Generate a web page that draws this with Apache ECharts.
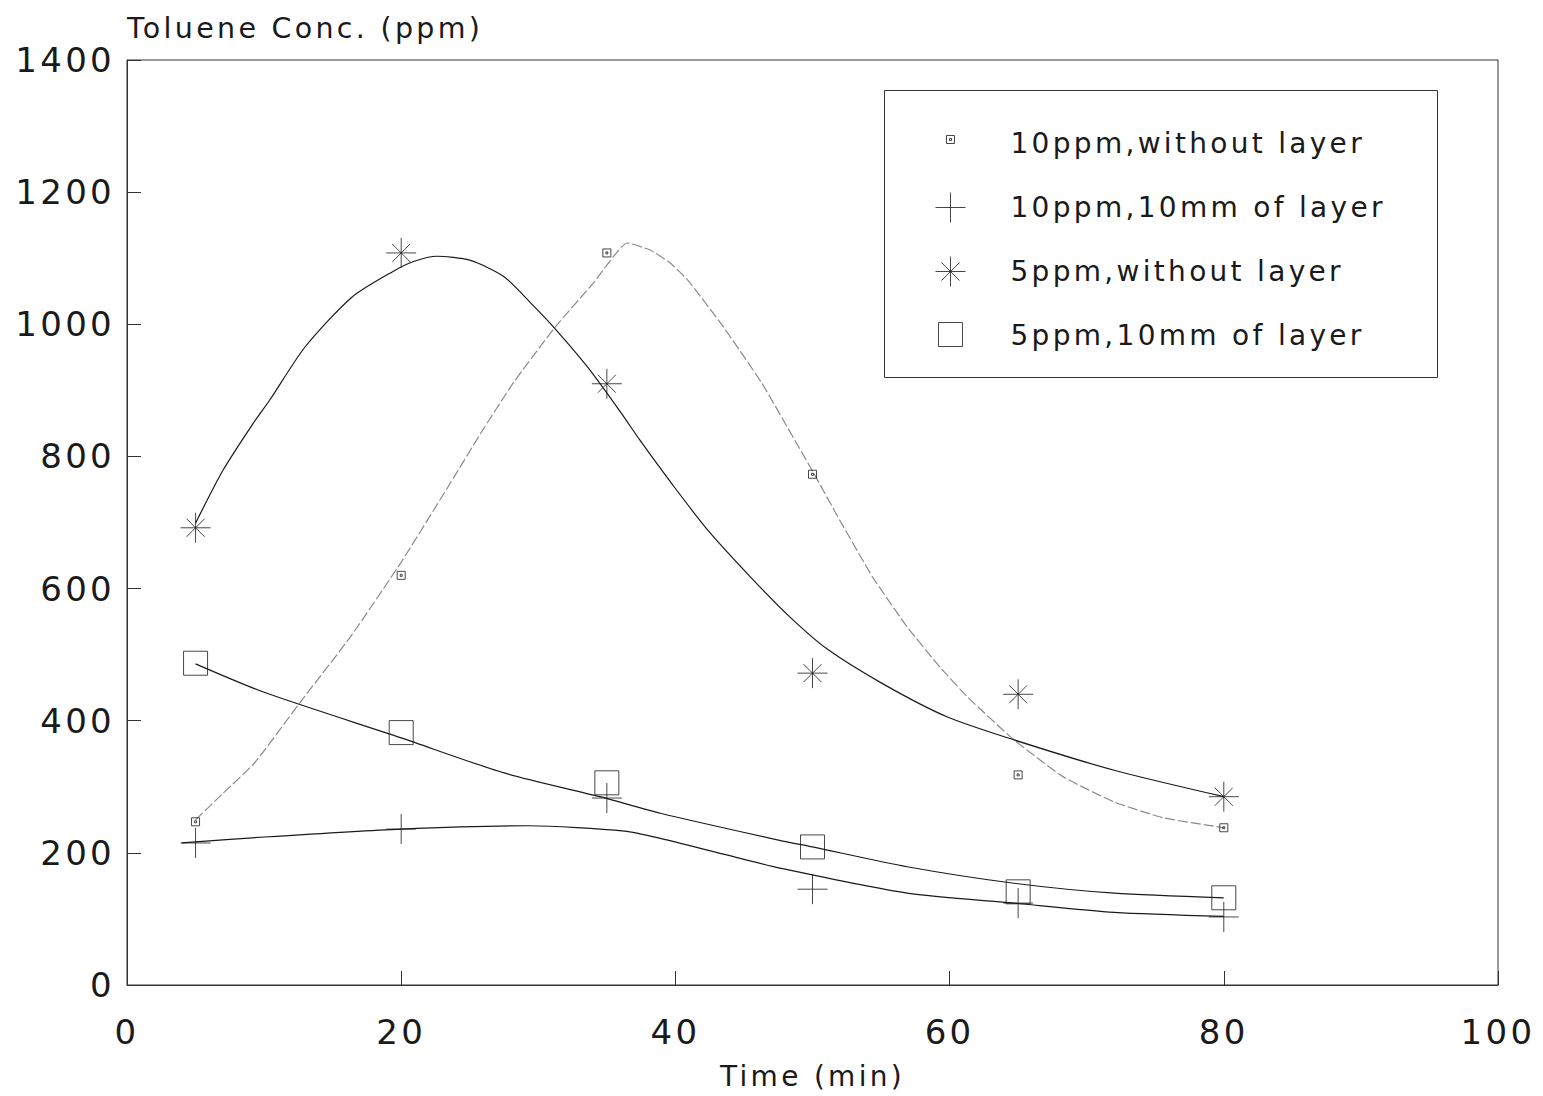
<!DOCTYPE html>
<html>
<head>
<meta charset="utf-8">
<script src="https://cdn.jsdelivr.net/npm/echarts@6/dist/echarts.min.js"></script>
<style>
  html, body { margin: 0; padding: 0; background: #fff; }
  #c { width: 1543px; height: 1096px; }
  #c text { letter-spacing: 3.3px; }
</style>
</head>
<body>
<div id="c"></div>
<script>
// ---- data ----
const times = [5, 20, 35, 50, 65, 80];
const names = ['10ppm,without layer', '10ppm,10mm of layer', '5ppm,without layer', '5ppm,10mm of layer'];
const s10ppmNoLayer = [247, 620, 1108, 773, 318, 238];
const s10ppmLayer   = [215, 236, 283, 145, 124, 103];
const s5ppmNoLayer  = [692, 1108, 910, 472, 440, 285];
const s5ppmLayer    = [487, 382, 306, 209, 141, 132];

// fitted curves as drawn in the reference (x, y)
const fit10ppmNoLayer = [[5,250],[7,290],[9.3,336],[12.6,427],[16.3,527],[20,640],[23.3,750],[25.8,835],[28.2,912],[31.2,995],[34,1062],[36.5,1123],[38.2,1112],[39.6,1093],[40.9,1067],[43.5,996],[46.3,911],[49,814],[50,778],[52,703],[54.4,617],[56.9,542],[59.3,481],[61.3,436],[64.7,371],[68.3,315],[72,277],[75.6,253],[80,238]];
const fit5ppmNoLayer = [[5,699],[7,779],[9.2,850],[10.4,885],[13,966],[16.4,1041],[19.4,1080],[20.9,1095],[22.6,1103],[25,1097],[27.5,1072],[29.6,1029],[31.1,996],[33.6,935],[36,867],[37.4,825],[39.8,757],[42.3,690],[45.5,617],[48.4,556],[51.1,508],[55.2,455],[59.8,406],[64.7,371],[72,325],[80,285]];
const fit5ppmLayer = [[5,486],[10,443],[20,374],[27.5,321],[34.5,285],[38.9,260],[47.6,219],[50,209],[56.9,179],[64.7,154],[72,139],[80,132]];
const fit10ppmLayer = [[4,215],[10,224],[20,236],[29.3,241],[36.3,233],[38.9,222],[43.5,198],[47.6,177],[56.9,139],[64.7,124],[72,110],[80,104]];

const FONT = '"DejaVu Sans", sans-serif';
const INK = '#1a1a1a';

const symDot = 'path://M0,0H8V8H0Z M3,3H5V5H3Z';
const symPlus = 'path://M0,15H30M15,0V30';
const symStar = 'path://M0,15H30M15,0V30M6,6L24,24M24,6L6,24';
const symSquare = 'path://M0,0H24V24H0Z';

const legDot = 'path://M0,0M30,30M11,7H19V15H11Z M14,10H16V12H14Z';
const legPlus = 'path://M0,15H30M15,0V30';
const legStar = 'path://M0,15H30M15,0V30M6,6L24,24M24,6L6,24';
const legSquare = 'path://M0,0M30,30M3,2H27V26H3Z';

function pts(vals) { return times.map((t, i) => [t, vals[i]]); }

function scatter(name, vals, symbol, size) {
  return {
    name, type: 'scatter', data: pts(vals), symbol, symbolSize: size, z: 5,
    itemStyle: { color: 'transparent', borderColor: INK, borderWidth: 1 },
    emphasis: { disabled: true }, silent: true
  };
}
function curve(data, color, type, smooth) {
  return {
    type: 'line', data, showSymbol: false, symbol: 'none', smooth: smooth == null ? 0.25 : smooth, z: 3,
    lineStyle: { color, width: 1.2, type: type || 'solid' },
    emphasis: { disabled: true }, silent: true
  };
}

const chart = echarts.init(document.getElementById('c'), null, { renderer: 'svg' });
chart.setOption({
  animation: false,
  backgroundColor: '#fff',
  textStyle: { fontFamily: FONT },
  grid: { left: 127, right: 45, top: 60, bottom: 111, show: true, borderColor: '#333', borderWidth: 1 },
  xAxis: {
    type: 'value', min: 0, max: 100, interval: 20,
    axisLine: { lineStyle: { color: '#333', width: 1 } },
    axisTick: { inside: true, length: 14, lineStyle: { color: '#333' } },
    axisLabel: { fontSize: 34, color: INK, margin: 30, fontFamily: FONT, formatter: v => String(v) },
    splitLine: { show: false },
    name: 'Time (min)', nameLocation: 'middle', nameGap: 77,
    nameTextStyle: { fontSize: 28, color: INK, fontFamily: FONT }
  },
  yAxis: {
    type: 'value', min: 0, max: 1400, interval: 200,
    axisLine: { show: true, lineStyle: { color: '#333', width: 1 } },
    axisTick: { show: true, inside: true, length: 14, lineStyle: { color: '#333' } },
    axisLabel: { fontSize: 34, color: INK, margin: 12, fontFamily: FONT, formatter: v => String(v) },
    splitLine: { show: false },
    name: 'Toluene Conc. (ppm)', nameLocation: 'end', nameGap: 32,
    nameTextStyle: { fontSize: 28.5, color: INK, align: 'left', verticalAlign: 'middle', fontFamily: FONT }
  },
  legend: {
    orient: 'vertical', left: 935, top: 128, padding: 0,
    itemWidth: 110, itemHeight: 30, itemGap: 33, selectedMode: false,
    textStyle: { fontSize: 28, color: INK, fontFamily: FONT },
    itemStyle: { color: 'transparent', borderColor: INK, borderWidth: 1 },
    data: [
      { name: names[0], icon: legDot },
      { name: names[1], icon: legPlus },
      { name: names[2], icon: legStar },
      { name: names[3], icon: legSquare }
    ]
  },
  graphic: [{
    type: 'rect', left: 882, top: 88, silent: true,
    shape: { width: 553, height: 287 },
    style: { fill: 'none', stroke: '#333', lineWidth: 1 }
  }],
  series: [
    scatter(names[0], s10ppmNoLayer, symDot, 8),
    scatter(names[1], s10ppmLayer, symPlus, 30),
    scatter(names[2], s5ppmNoLayer, symStar, 30),
    scatter(names[3], s5ppmLayer, symSquare, 24),
    curve(fit10ppmNoLayer, '#8a8a8a', [10, 3], 0.15),
    curve(fit5ppmNoLayer, INK),
    curve(fit5ppmLayer, INK),
    curve(fit10ppmLayer, INK)
  ]
});
</script>
</body>
</html>
